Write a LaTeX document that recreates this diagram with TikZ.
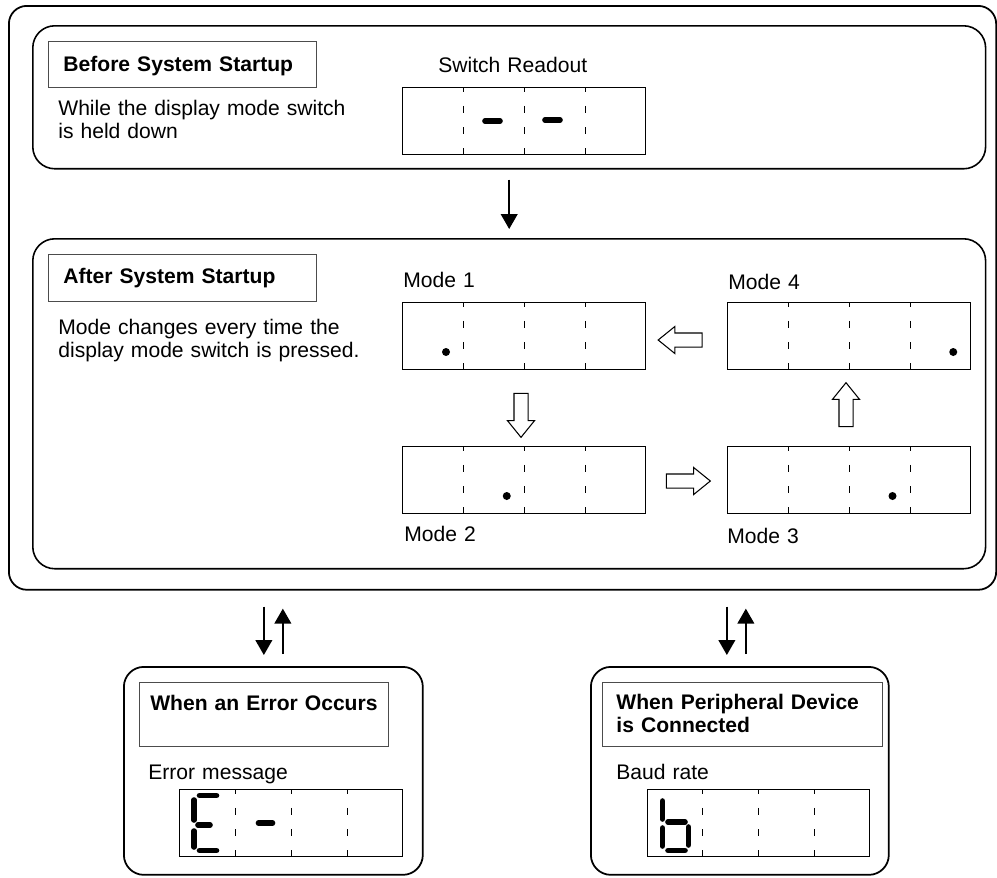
\documentclass[tikz,border=0pt]{standalone}
\usepackage{fontspec}
\setmainfont{Liberation Sans}
\usetikzlibrary{positioning,calc,shapes.arrows,arrows.meta}

\begin{document}
\begin{tikzpicture}[
    x=0.02cm, y=-0.02cm,
    every node/.style={font=\fontsize{12}{13.4}\selectfont},
    panel/.style={draw, line width=0.9pt, rounded corners=0.44cm, anchor=north west, inner sep=0},
    titlebox/.style={draw=black!70, line width=0.5pt, anchor=north west, align=left, inner ysep=0,
                     font=\fontsize{12}{13.4}\selectfont\bfseries},
    note/.style={anchor=base west, inner sep=0, align=left, text width=7cm},
    digits/.style={draw, line width=0.6pt, anchor=north west, inner sep=0,
                   minimum width=4.86cm, minimum height=1.34cm},
    divider/.style={line width=0.5pt, dash pattern=on 4pt off 8pt, dash phase=1.2pt},
    segment/.style={line width=3.2pt, line cap=round},
    hollow/.style={single arrow, draw, line width=0.6pt, inner sep=0.13cm,
                   minimum height=0.88cm,
                   single arrow head extend=0.13cm, single arrow tip angle=78},
    arrow/.style={-{Triangle[width=9.5pt,length=8.5pt]}, line width=1pt}
]
    \useasboundingbox (0,0) rectangle (997,877);

    % frames
    \node[panel, rounded corners=0.36cm, line width=1pt, minimum width=19.75cm, minimum height=11.68cm] (outer) at (8,5) {};
    \node[panel, minimum width=19.06cm, minimum height=2.86cm] (before) at (32,25) {};
    \node[panel, minimum width=19.06cm, minimum height=6.6cm] (after) at (32,238) {};
    \node[panel, rounded corners=0.4cm, line width=1pt, minimum width=5.98cm, minimum height=4.16cm] (error) at (123,666) {};
    \node[panel, rounded corners=0.4cm, line width=1pt, minimum width=5.96cm, minimum height=4.16cm] (periph) at (590,666) {};

    % titles
    \node[titlebox, inner xsep=0.3cm, text width=4.76cm, text height=0.6cm, text depth=0.32cm] (beforet) at (48,41) {Before System Startup};
    \node[titlebox, inner xsep=0.3cm, text width=4.76cm, text height=0.58cm, text depth=0.36cm] (aftert) at (48,254) {After System Startup};
    \node[titlebox, align=center, inner xsep=0.1cm, text width=4.78cm, text height=0.56cm, text depth=0.72cm] (errort) at (139,682) {When an Error Occurs};
    \node[titlebox, inner xsep=0.28cm, text width=5.04cm, text height=0.54cm, text depth=0.74cm] (peripht) at (602,682) {When Peripheral Device\\is Connected};

    \node[note] (holdtxt) at (58,115) {While the display mode switch\\is held down};
    \node[note] (presstxt) at (58,334) {Mode changes every time the\\display mode switch is pressed.};

    % displays
    \node[digits] (sr) at (402,87) {};
    \node[digits] (m1) at (402,302) {};
    \node[digits] (m4) at (727,302) {};
    \node[digits] (m2) at (402,446) {};
    \node[digits] (m3) at (727,446) {};
    \node[digits, minimum width=4.46cm] (errd) at (179,789) {};
    \node[digits, minimum width=4.44cm] (baud) at (647,789) {};

    \foreach \d in {sr,m1,m2,m3,m4,errd,baud}
        \foreach \k in {0.25,0.5,0.75}
            \draw[divider] ($(\d.north west)!\k!(\d.north east)$) -- ($(\d.south west)!\k!(\d.south east)$);

    \node[note] (srlab) at (438,72) {Switch Readout};
    \node[note] (m1lab) at (403,287) {Mode 1};
    \node[note] (m4lab) at (728,289) {Mode 4};
    \node[note] (m2lab) at (404,541) {Mode 2};
    \node[note] (m3lab) at (727,543) {Mode 3};
    \node[note] (errlab) at (148,779) {Error message};
    \node[note] (baudlab) at (616,779) {Baud rate};

    % decimal points
    \foreach \d/\k in {m1/0,m2/1,m3/2,m4/3}
        \fill ($(\d.north west)+({44+60.75*\k},50)$) circle[radius=0.08cm];

    % segments
    \begin{scope}[shift={(sr.north west)}]
        \draw[segment] (83,34) -- (98,34);
        \draw[segment] (143,33) -- (158,33);
    \end{scope}
    \begin{scope}[shift={(errd.north west)}]
        \draw[segment] (20.5,6.5) -- (37.5,6.5);
        \draw[segment] (15,11) -- (15,31);
        \draw[segment] (19,36) -- (31,36);
        \draw[segment] (15,42) -- (15,58);
        \draw[segment] (20.5,61.5) -- (37.5,61.5);
        \draw[segment] (79.5,34) -- (93.5,34);
    \end{scope}
    \begin{scope}[shift={(baud.north west)}]
        \draw[segment] (15.5,12) -- (15.5,30);
        \draw[segment] (15.5,39) -- (15.5,57);
        \draw[segment] (21,33) -- (38,33);
        \draw[segment] (41.5,38) -- (41.5,56);
        \draw[segment] (21,61.5) -- (38,61.5);
    \end{scope}

    % mode cycle
    \node[hollow, shape border rotate=270] (a12) at (521,411) {};
    \node[hollow] (a23) at (684,481) {};
    \node[hollow, shape border rotate=90] (a34) at (846,409) {};
    \node[hollow, shape border rotate=180] (a41) at (684.5,340) {};

    % flow between frames
    \draw[arrow] ([yshift=-0.2cm]before.south) -- ([yshift=0.18cm]after.north);

    \coordinate (eL) at ([xshift=-0.19cm]error.north);
    \coordinate (eR) at ([xshift=0.19cm]error.north);
    \coordinate (pL) at ([xshift=-0.26cm]periph.north);
    \coordinate (pR) at ([xshift=0.12cm]periph.north);
    \draw[arrow, shorten <=0.32cm, shorten >=0.22cm] (eL |- outer.south) -- (eL);
    \draw[arrow, shorten <=0.24cm, shorten >=0.36cm] (eR) -- (eR |- outer.south);
    \draw[arrow, shorten <=0.32cm, shorten >=0.22cm] (pL |- outer.south) -- (pL);
    \draw[arrow, shorten <=0.24cm, shorten >=0.36cm] (pR) -- (pR |- outer.south);
\end{tikzpicture}
\end{document}
